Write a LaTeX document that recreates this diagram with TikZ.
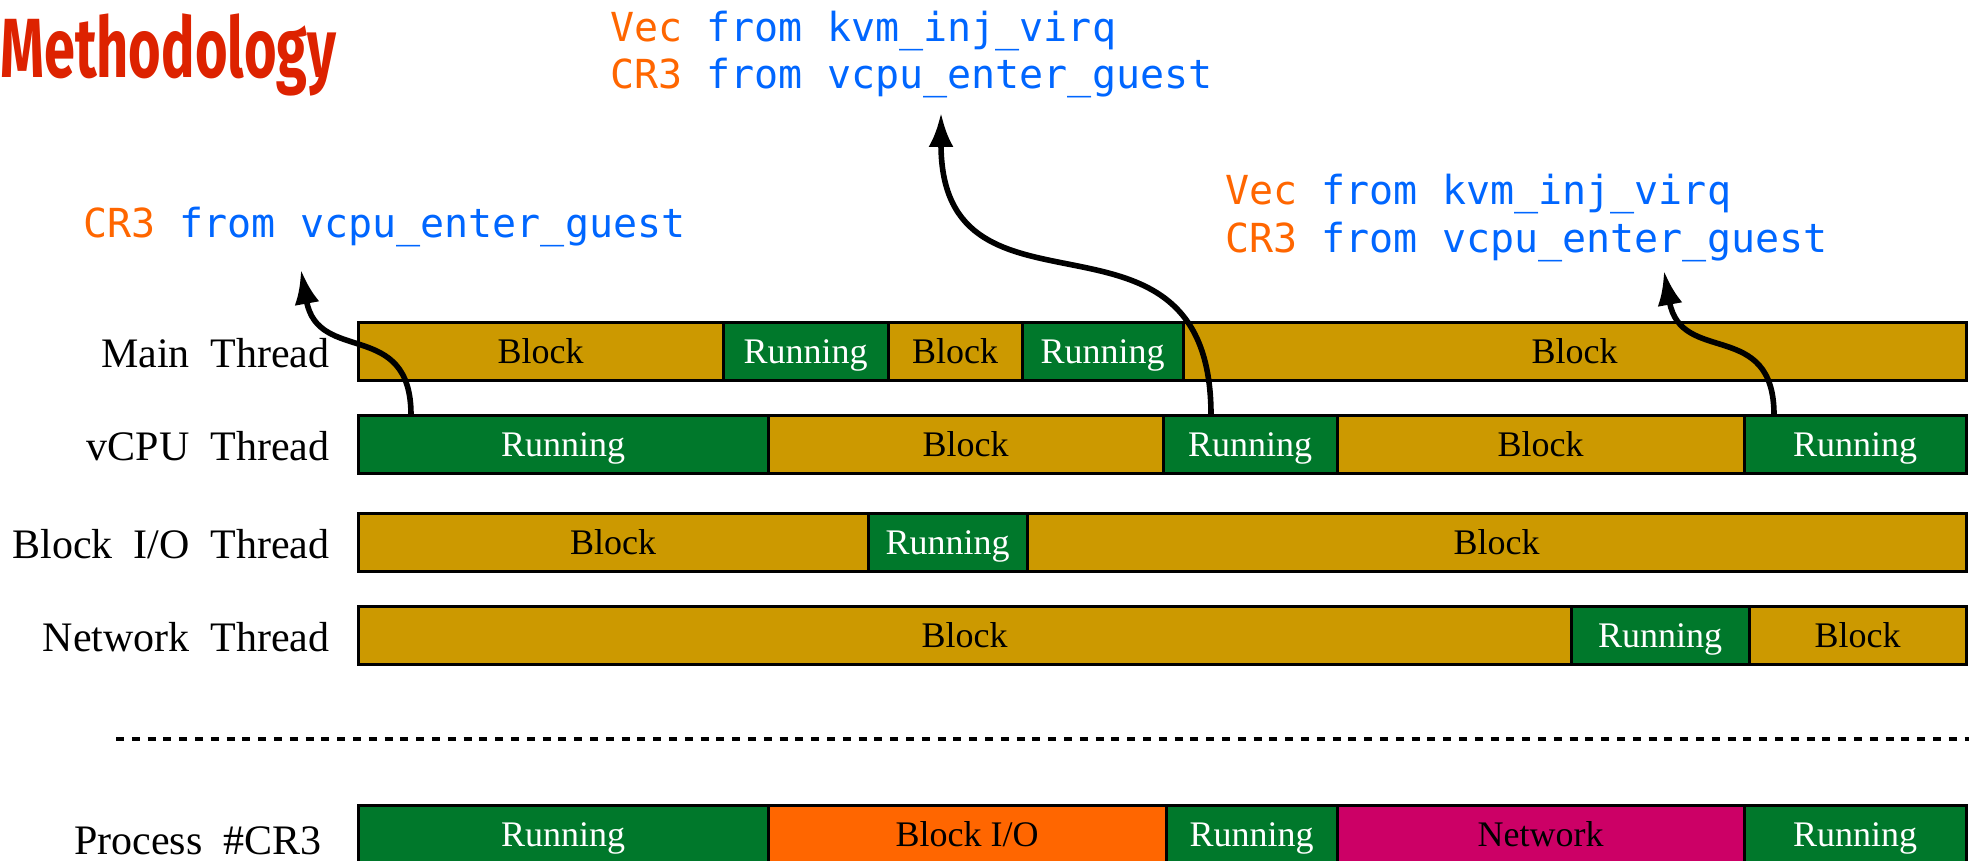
\documentclass[tikz,border=0pt]{standalone}
\usepackage{fontspec}
\setmainfont{Liberation Serif}
\newfontfamily\monof{DejaVu Sans Mono}
\newfontfamily\titlef{Fira Sans}
\usetikzlibrary{arrows.meta}
\definecolor{blockc}{HTML}{CC9900}
\definecolor{runc}{HTML}{00782B}
\definecolor{bioc}{HTML}{FF6600}
\definecolor{netc}{HTML}{CC0066}
\definecolor{vorange}{HTML}{FF6600}
\definecolor{vblue}{HTML}{0066FF}
\definecolor{titlered}{HTML}{DD2200}
\newcommand{\seg}[6]{\node[#5, minimum width={(#3-#2)*0.5pt}, anchor=north west] (#1) at (#2,#4) {#6};}
\newcommand{\ws}{\hspace{10.5pt}}
\tikzset{
  segbox/.style={draw=black, line width=1.5pt, inner sep=0pt, outer sep=0pt, minimum height=29pt,
    font=\fontsize{18pt}{21pt}\selectfont, text height=12pt, text depth=0pt},
  blk/.style={segbox, fill=blockc, text=black},
  run/.style={segbox, fill=runc, text=white},
  bio/.style={segbox, fill=bioc, text=black},
  net/.style={segbox, fill=netc, text=black},
  lbl/.style={anchor=base east, inner sep=0pt, font=\fontsize{21pt}{25pt}\selectfont},
  mono/.style={anchor=base west, inner sep=0pt, font=\monof\fontsize{20pt}{24pt}\selectfont},
  conn/.style={line width=2.8pt, -{Latex[length=17pt,width=12.5pt]}},
  sepline/.style={line width=2pt, dash pattern=on 4pt off 3.9pt}
}
\begin{document}
\begin{tikzpicture}[x=0.5pt, y=-0.5pt]
\useasboundingbox (0,0) rectangle (1969,861);
% title
\node[anchor=base west, inner sep=0pt, text=titlered] (title) at (0,78)
  {\resizebox{168pt}{\height}{\titlef\bfseries\fontsize{42pt}{48pt}\selectfont Methodology}};
% annotations
\node[mono] (t1) at (610,42) {\textcolor{vorange}{Vec} \textcolor{vblue}{from kvm\_inj\_virq}};
\node[mono] (t2) at (610,89) {\textcolor{vorange}{CR3} \textcolor{vblue}{from vcpu\_enter\_guest}};
\node[mono] (l1) at (83,238) {\textcolor{vorange}{CR3} \textcolor{vblue}{from vcpu\_enter\_guest}};
\node[mono] (r1) at (1225,205) {\textcolor{vorange}{Vec} \textcolor{vblue}{from kvm\_inj\_virq}};
\node[mono] (r2) at (1225,253) {\textcolor{vorange}{CR3} \textcolor{vblue}{from vcpu\_enter\_guest}};
% row labels
\node[lbl] (lm) at (330,367) {Main\ws Thread};
\node[lbl] (lv) at (330,460) {vCPU\ws Thread};
\node[lbl] (lb) at (330,558) {Block\ws I/O\ws Thread};
\node[lbl] (ln) at (330,651) {Network\ws Thread};
\node[lbl] (lp) at (322,854) {Process\ws \#CR3};
% main thread
\seg{m1}{358}{723}{322}{blk}{Block}
\seg{m2}{723}{888}{322}{run}{Running}
\seg{m3}{888}{1022}{322}{blk}{Block}
\seg{m4}{1022}{1183}{322}{run}{Running}
\seg{m5}{1183}{1966}{322}{blk}{Block}
% vcpu thread
\seg{v1}{358}{768}{415}{run}{Running}
\seg{v2}{768}{1163}{415}{blk}{Block}
\seg{v3}{1163}{1337}{415}{run}{Running}
\seg{v4}{1337}{1744}{415}{blk}{Block}
\seg{v5}{1744}{1966}{415}{run}{Running}
% block io thread
\seg{b1}{358}{868}{513}{blk}{Block}
\seg{b2}{868}{1027}{513}{run}{Running}
\seg{b3}{1027}{1966}{513}{blk}{Block}
% network thread
\seg{n1}{358}{1571}{606}{blk}{Block}
\seg{n2}{1571}{1749}{606}{run}{Running}
\seg{n3}{1749}{1966}{606}{blk}{Block}
% process
\seg{p1}{358}{768}{805}{run}{Running}
\seg{p2}{768}{1166}{805}{bio}{Block I/O}
\seg{p3}{1166}{1337}{805}{run}{Running}
\seg{p4}{1337}{1744}{805}{net}{Network}
\seg{p5}{1744}{1966}{805}{run}{Running}
% separator
\coordinate (dl) at (116,739);
\coordinate (dr) at (1975,739);
\draw[sepline] (dl) -- (dr);
% arrows
\coordinate (a1s) at (411,415);
\coordinate (a1e) at (301,270);
\coordinate (a2s) at (1211,415);
\coordinate (a2e) at (941,113);
\coordinate (a3s) at (1774,415);
\coordinate (a3e) at (1664,271);
\draw[conn] (a1s) .. controls (411,318) and (318,365) .. (a1e);
\draw[conn] (a2s) .. controls (1211,180) and (941,342) .. (a2e);
\draw[conn] (a3s) .. controls (1774,318) and (1681,366) .. (a3e);
\end{tikzpicture}
\end{document}
